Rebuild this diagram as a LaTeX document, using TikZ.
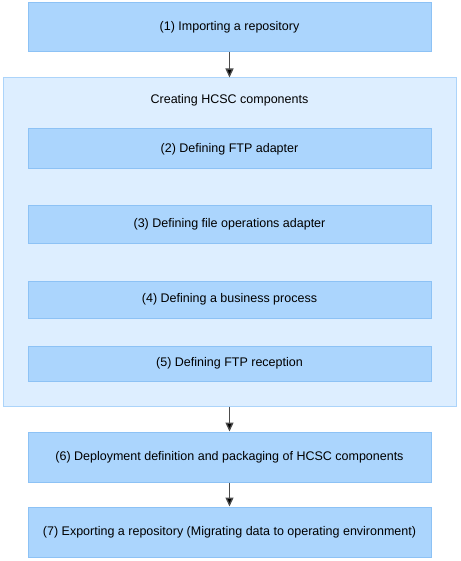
\documentclass[tikz,border=0pt]{standalone}
\usepackage{fontspec}
\setmainfont{Liberation Sans}
\usetikzlibrary{
  arrows.meta,
  positioning
}
\definecolor{stagefill}{HTML}{ABD5FD}
\definecolor{stageline}{HTML}{8DC2F5}
\definecolor{groupfill}{HTML}{DDEEFF}
\definecolor{groupline}{HTML}{ACD4FA}
\tikzset{
  stagebox/.style={draw=stageline, fill=stagefill, line width=1pt,
    minimum width=403pt, inner sep=0pt, font=\fontsize{12.5}{15}\selectfont},
  flow/.style={draw=black!70, line width=1.3pt,
    -{Triangle[length=9pt,width=8pt,fill=black]}}
}
\begin{document}
\begin{tikzpicture}[x=1pt,y=-1pt]
        \useasboundingbox (0,0) rectangle (460,561);
        \node[draw=groupline, fill=groupfill, line width=1pt, minimum width=453pt, minimum height=328pt] (group) at (229.5,242) {};
        \node[font=\fontsize{12.5}{15}\selectfont] (title) at (229.5,100) {Creating HCSC components};
        \node[stagebox, minimum height=49pt] (import) at (229.5,27.5) {(1) Importing a repository};
        \node[stagebox, minimum height=40pt] (ftp) at (229.5,149) {(2) Defining FTP adapter};
        \node[stagebox, minimum height=38pt] (fileop) at (229.5,224) {(3) Defining file operations adapter};
        \node[stagebox, minimum height=37pt] (process) at (229.5,299.5) {(4) Defining a business process};
        \node[stagebox, minimum height=35pt] (reception) at (229.5,363.5) {(5) Defining FTP reception};
        \node[stagebox, minimum height=50pt] (deploy) at (229.5,457) {(6) Deployment definition and packaging of HCSC components};
        \node[stagebox, minimum height=50pt] (export) at (229.5,532) {(7) Exporting a repository (Migrating data to operating environment)};
	\draw[flow] (import) -- (group);
	\draw[flow] (group) -- (deploy);
	\draw[flow] (deploy) -- (export);
\end{tikzpicture}
\end{document}
